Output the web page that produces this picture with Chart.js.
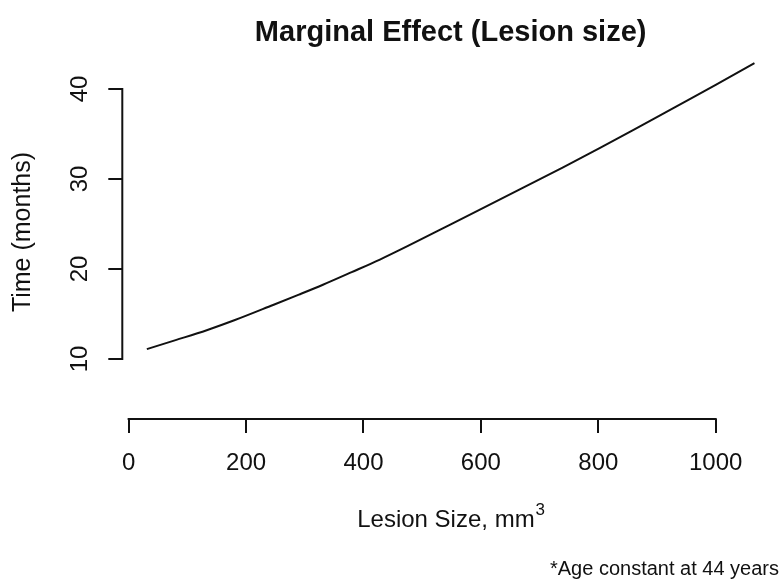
<!DOCTYPE html>
<html><head><meta charset="utf-8">
<script src="https://cdn.jsdelivr.net/npm/chart.js@4.4.1/dist/chart.umd.min.js"></script>
<style>html,body{margin:0;padding:0;background:#fff}canvas{display:block}</style>
</head><body>
<canvas id="c" width="779" height="579"></canvas>
<script>
// Data
const lesionSize = [31, 80, 133, 180, 246, 290, 331, 380, 428, 480, 547, 600, 683, 740, 803, 860, 927, 1000, 1066];
const timeMonths = [11.1, 12.1, 13.2, 14.3, 16.0, 17.15, 18.25, 19.65, 21.05, 22.7, 24.9, 26.65, 29.4, 31.3, 33.45, 35.45, 37.85, 40.45, 42.86];
const xTicks = [0, 200, 400, 600, 800, 1000];
const yTicks = [10, 20, 30, 40];
const titleText = 'Marginal Effect (Lesion size)';
const xTitle = 'Lesion Size, mm';
const xTitleSup = '3';
const yTitle = 'Time (months)';
const footnote = '*Age constant at 44 years';

const FONT = "'Liberation Sans', Arial, Helvetica, sans-serif";
const INK = '#111';

const rStyle = {
  id: 'rStyle',
  afterDraw(chart) {
    const ctx = chart.ctx;
    const xs = chart.scales.x, ys = chart.scales.y, ca = chart.chartArea;
    ctx.save();
    ctx.strokeStyle = INK;
    ctx.lineWidth = 2;
    // x axis line (only between first and last tick)
    ctx.beginPath();
    ctx.moveTo(xs.getPixelForValue(xTicks[0]) - 1, ca.bottom);
    ctx.lineTo(xs.getPixelForValue(xTicks[xTicks.length - 1]) + 1, ca.bottom);
    ctx.stroke();
    // y axis line
    ctx.beginPath();
    ctx.moveTo(ca.left, ys.getPixelForValue(yTicks[0]) + 1);
    ctx.lineTo(ca.left, ys.getPixelForValue(yTicks[yTicks.length - 1]) - 1);
    ctx.stroke();

    ctx.fillStyle = INK;
    // y tick labels, rotated like R
    ctx.font = '24px ' + FONT;
    ctx.textAlign = 'center';
    ctx.textBaseline = 'middle';
    yTicks.forEach(v => {
      ctx.save();
      ctx.translate(80, ys.getPixelForValue(v));
      ctx.rotate(-Math.PI / 2);
      ctx.fillText(String(v), 0, 0);
      ctx.restore();
    });
    // y title
    ctx.save();
    ctx.font = '25px ' + FONT;
    ctx.translate(23, 232);
    ctx.rotate(-Math.PI / 2);
    ctx.fillText(yTitle, 0, 0);
    ctx.restore();
    // x title with superscript
    ctx.font = '24px ' + FONT;
    ctx.textBaseline = 'alphabetic';
    const mainW = ctx.measureText(xTitle).width;
    ctx.font = '17px ' + FONT;
    const supW = ctx.measureText(xTitleSup).width;
    const cx = (ca.left + ca.right) / 2;
    const startX = cx - (mainW + supW) / 2;
    ctx.textAlign = 'left';
    ctx.font = '24px ' + FONT;
    ctx.fillText(xTitle, startX, 527);
    ctx.font = '17px ' + FONT;
    ctx.fillText(xTitleSup, startX + mainW + 1, 515);
    // main title
    ctx.textAlign = 'center';
    ctx.textBaseline = 'middle';
    ctx.font = 'bold 29px ' + FONT;
    ctx.fillText(titleText, cx, 33);
    // footnote
    ctx.textAlign = 'right';
    ctx.textBaseline = 'alphabetic';
    ctx.font = '20px ' + FONT;
    ctx.fillText(footnote, 779, 575);
    ctx.restore();
  }
};

new Chart(document.getElementById('c'), {
  type: 'line',
  data: {
    datasets: [{
      data: lesionSize.map((x, i) => ({ x: x, y: timeMonths[i] })),
      borderColor: INK,
      borderWidth: 2,
      pointRadius: 0,
      fill: false,
      cubicInterpolationMode: 'monotone'
    }]
  },
  options: {
    responsive: false,
    animation: false,
    devicePixelRatio: 1,
    layout: { padding: { top: 51.8, right: 0, left: 0, bottom: 0 } },
    plugins: { legend: { display: false }, tooltip: { enabled: false }, title: { display: false } },
    scales: {
      x: {
        type: 'linear',
        min: -10.8,
        max: 1107.8,
        afterBuildTicks: s => { s.ticks = xTicks.map(v => ({ value: v })); },
        afterFit: s => { s.height = 160; s.paddingLeft = 0; s.paddingRight = 0; },
        ticks: { font: { size: 24, family: FONT }, color: INK, padding: 16, maxRotation: 0, minRotation: 0, autoSkip: false, callback: v => String(v) },
        grid: { display: true, drawOnChartArea: false, drawTicks: true, tickLength: 14, color: INK, lineWidth: 2 },
        border: { display: false }
      },
      y: {
        type: 'linear',
        min: 3.333,
        max: 44.13,
        afterBuildTicks: s => { s.ticks = yTicks.map(v => ({ value: v })); },
        afterFit: s => { s.width = 122.3; },
        ticks: { display: false },
        grid: { display: true, drawOnChartArea: false, drawTicks: true, tickLength: 14, color: INK, lineWidth: 2 },
        border: { display: false }
      }
    }
  },
  plugins: [rStyle]
});
</script>
</body></html>
